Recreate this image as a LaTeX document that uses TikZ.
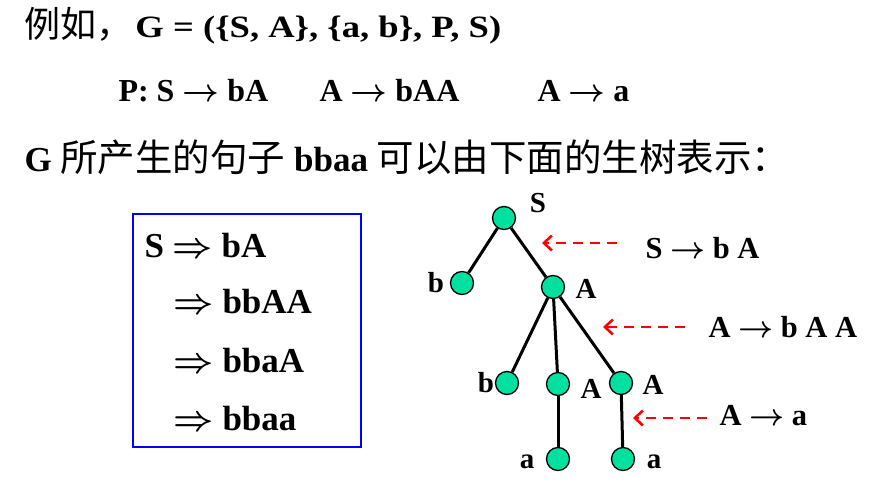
\RequirePackage{fix-cm}
\documentclass[tikz,border=0pt]{standalone}
\usepackage{fontspec}
\setmainfont{Liberation Serif}
\newfontfamily\ancho{Liberation Serif}[FakeStretch=1.18]
\newfontfamily\cjk{Noto Sans CJK SC}
\usetikzlibrary{arrows.meta}
\definecolor{verde}{RGB}{0,225,160}
\newcommand{\fl}{$\rightarrow$}
\newcommand{\dfl}{$\Rightarrow$}

\begin{document}
\begin{tikzpicture}[x=1pt, y=-1pt, line width=3pt,
  hoja/.style={circle, draw=black, line width=1.3pt, fill=verde, minimum size=23pt, inner sep=0pt},
  linea/.style={anchor=base west, inner sep=0pt, font=\fontsize{32}{36}\selectfont\bfseries\boldmath},
  deriv/.style={anchor=base west, inner sep=0pt, font=\fontsize{35}{40}\selectfont\bfseries\boldmath},
  etiq/.style={inner sep=0pt, font=\fontsize{29}{32}\selectfont\bfseries},
  regla/.style={anchor=west, inner sep=0pt, font=\fontsize{30.5}{36}\selectfont\bfseries\boldmath},
  flecha/.style={red, line width=2.6pt, dash pattern=on 10pt off 7pt, -{Straight Barb[length=8pt, width=15pt]}}]
\useasboundingbox (0,0) rectangle (873,495);
% Texto
\node [linea] (t1) at (23,38) {{\fontsize{36}{40}\cjk\mdseries 例如，}\hspace{3pt}{\fontsize{31}{36}\ancho\bfseries G = (\{S, A\}, \{a, b\}, P, S)}};
\node [linea] (p1) at (117,102) {P: S \fl{} bA};
\node [linea] (p2) at (318,102) {A \fl{} bAA};
\node [linea] (p3) at (536,102) {A \fl{} a};
\node [linea, font=\fontsize{35}{38}\selectfont\bfseries] (t3) at (23,171) {G {\fontsize{37.5}{40}\cjk\mdseries 所产生的句子} bbaa {\fontsize{37.5}{40}\cjk\mdseries 可以由下面的生树表示：}};
% Caja
\node [draw=blue, line width=2pt, minimum width=228pt, minimum height=233pt] (caja) at (246.7,330.5) {};
\node [deriv] (d1) at (143,257) {S \dfl{} bA};
\node [deriv] (d2) at (172,313) {\dfl{} bbAA};
\node [deriv] (d3) at (172,372) {\dfl{} bbaA};
\node [deriv] (d4) at (172,430) {\dfl{} bbaa};
% Nodos
\node [hoja] (S)  at (504,218) {};
\node [hoja] (b1) at (462,283) {};
\node [hoja] (A1) at (553,287) {};
\node [hoja] (b2) at (507,383) {};
\node [hoja] (A2) at (558,384) {};
\node [hoja] (A3) at (621,383) {};
\node [hoja] (a1) at (558,459) {};
\node [hoja] (a2) at (623,459) {};
% Etiquetas
\node [etiq] (lS)  at (538,203) {S};
\node [etiq] (lb1) at (436,283) {b};
\node [etiq] (lA1) at (586,289) {A};
\node [etiq] (lb2) at (486,383) {b};
\node [etiq] (lA2) at (591,389) {A};
\node [etiq] (lA3) at (653,385) {A};
\node [etiq] (la1) at (527,462) {a};
\node [etiq] (la2) at (654,462) {a};
% Ramas
\draw (S) -- (b1);
\draw (S) -- (A1);
\draw (A1) -- (b2);
\draw (A1) -- (A2);
\draw (A1) -- (A3);
\draw (A2) -- (a1);
\draw (A3) -- (a2);
% Reglas
\node [regla] (r1) at (644,248) {S \fl{} b A};
\node [regla] (r2) at (707,327) {A \fl{} b A A};
\node [regla] (r3) at (718,416) {A \fl{} a};
\coordinate (f1) at (542,243);
\coordinate (f2) at (603,327);
\coordinate (f3) at (633,418);
\draw [flecha] ([xshift=-27pt]r1.west |- f1) -- (f1);
\draw [flecha] ([xshift=-22pt]r2.west) -- (f2);
\draw [flecha] ([xshift=-11pt]r3.west |- f3) -- (f3);
\end{tikzpicture}
\end{document}
